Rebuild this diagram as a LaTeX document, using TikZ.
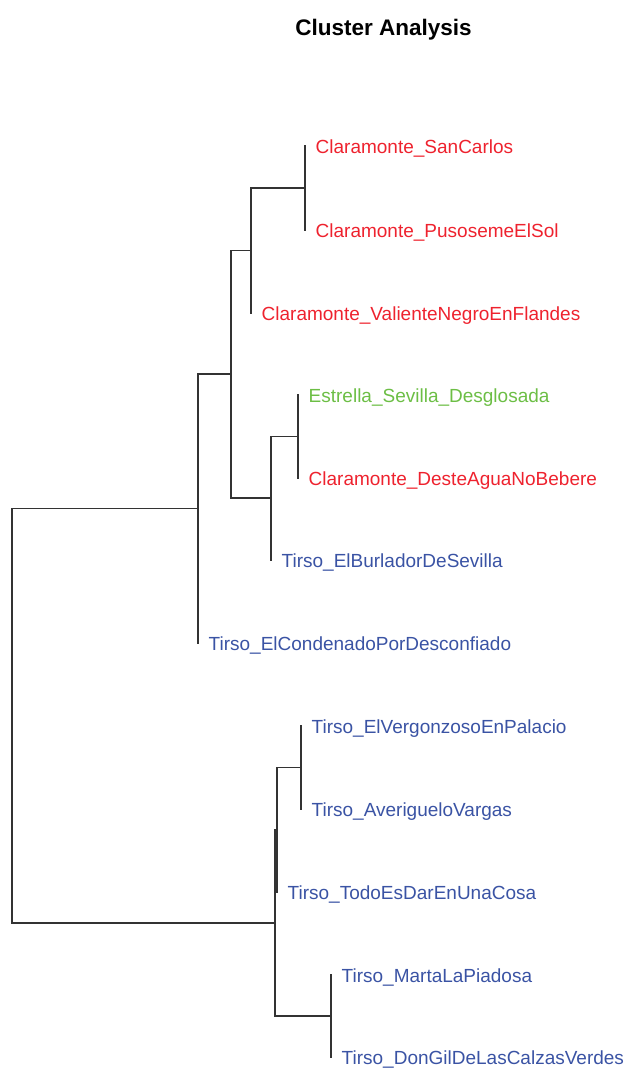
\documentclass[tikz,border=0pt]{standalone}
\usepackage{fontspec}
\setmainfont{Liberation Sans}
\definecolor{clared}{RGB}{238,34,46}
\definecolor{estgreen}{RGB}{108,190,69}
\definecolor{tirblue}{RGB}{58,83,164}
\begin{document}
\begin{tikzpicture}[x=1pt,y=-1pt,
  branch/.style={draw=black!80,line width=1.2pt,line cap=rect},
  leaflab/.style={anchor=base west,inner sep=0pt,xshift=10.5pt,yshift=-7pt,
    font=\fontsize{19}{22}\selectfont},
  titlelab/.style={anchor=base,inner sep=0pt,font=\fontsize{22.5}{26}\selectfont\bfseries}]
\useasboundingbox (0,0) rectangle (627,1068);

\node[titlelab] (title) at (383.5,35) {Cluster Analysis};

% leaf tips
\coordinate (l1) at (305,146);
\coordinate (l2) at (305,230);
\coordinate (l3) at (251,313);
\coordinate (l4) at (298,395);
\coordinate (l5) at (298,478);
\coordinate (l6) at (271,560);
\coordinate (l7) at (198,643);
\coordinate (l8) at (301,726);
\coordinate (l9) at (301,809);
\coordinate (l10) at (277,892);
\coordinate (l11) at (331,975);
\coordinate (l12) at (331,1057);

% merge points
\coordinate (n12) at (305,188);
\coordinate (n123) at (251,250.5);
\coordinate (n45) at (298,436.5);
\coordinate (n456) at (271,498);
\coordinate (nA) at (231,374);
\coordinate (nB) at (198,508.5);
\coordinate (n89) at (301,767.5);
\coordinate (n8910) at (277,830);
\coordinate (n1112) at (331,1016);
\coordinate (nC) at (275,923);
\coordinate (root) at (12,715.5);

% leaf labels
\node[leaflab,text=clared] (t1) at (l1) {Claramonte\_SanCarlos};
\node[leaflab,text=clared] (t2) at (l2) {Claramonte\_PusosemeElSol};
\node[leaflab,text=clared] (t3) at (l3) {Claramonte\_ValienteNegroEnFlandes};
\node[leaflab,text=estgreen] (t4) at (l4) {Estrella\_Sevilla\_Desglosada};
\node[leaflab,text=clared] (t5) at (l5) {Claramonte\_DesteAguaNoBebere};
\node[leaflab,text=tirblue] (t6) at (l6) {Tirso\_ElBurladorDeSevilla};
\node[leaflab,text=tirblue] (t7) at (l7) {Tirso\_ElCondenadoPorDesconfiado};
\node[leaflab,text=tirblue] (t8) at (l8) {Tirso\_ElVergonzosoEnPalacio};
\node[leaflab,text=tirblue] (t9) at (l9) {Tirso\_AverigueloVargas};
\node[leaflab,text=tirblue] (t10) at (l10) {Tirso\_TodoEsDarEnUnaCosa};
\node[leaflab,text=tirblue] (t11) at (l11) {Tirso\_MartaLaPiadosa};
\node[leaflab,text=tirblue] (t12) at (l12) {Tirso\_DonGilDeLasCalzasVerdes};

% dendrogram branches
\draw[branch] (l1) -| (n12) |- (l2);
\draw[branch] (n12) -| (n123) |- (l3);
\draw[branch] (l4) -| (n45) |- (l5);
\draw[branch] (n45) -| (n456) |- (l6);
\draw[branch] (n123) -| (nA) |- (n456);
\draw[branch] (nA) -| (nB) |- (l7);
\draw[branch] (l8) -| (n89) |- (l9);
\draw[branch] (n89) -| (n8910) |- (l10);
\draw[branch] (l11) -| (n1112) |- (l12);
\draw[branch] (n8910) -| (nC) |- (n1112);
\draw[branch] (nB) -| (root) |- (nC);
\end{tikzpicture}
\end{document}
